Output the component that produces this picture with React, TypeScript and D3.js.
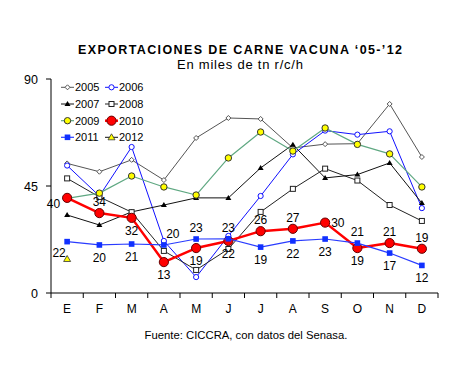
import React from "react";
import * as d3 from "d3";

const months = ["E", "F", "M", "A", "M", "J", "J", "A", "S", "O", "N", "D"];
const yTicks = [0, 45, 90];

const s2005 = [54.5, 51, 56, 47.5, 65.2, 73.6, 73.2, 61, 62.6, 62.8, 79.5, 57.2];
const s2006 = [53.6, 40.8, 61.4, 21.9, 6.7, 24, 40.8, 58.3, 68.3, 66.6, 68, 35.7];
const s2007 = [32.8, 28.6, 34.1, 37, 40, 40, 52.6, 62.4, 48.4, 49.8, 54.7, 37.8];
const s2008 = [48.2, 40.4, 34, 17.7, 9.7, 18.5, 34.1, 43.8, 52.3, 47.3, 37, 30.3];
const s2009 = [39.8, 42, 49.2, 44.6, 41.2, 56.8, 67.7, 59.7, 69.4, 62.5, 58.5, 44.6];
const s2010 = [40, 33.6, 31.6, 13, 18.9, 21.9, 26, 27, 29.6, 18.9, 21, 18.6];
const s2011 = [21.6, 20.2, 20.6, 20.2, 22.7, 22.8, 19.3, 21.9, 22.7, 21, 16.8, 11.6];
const s2012 = [14.3];

// label placement (not data): where each value label sits relative to its point
const place2010 = ["left", "above", "below", "below", "below", "below", "above", "above", "right", "below", "above", "above"];
const place2011 = ["belowleft", "below", "below", "aboveright", "above", "above", "below", "below", "below", "above", "below", "below"];

type Marker = "diamond" | "circleOpen" | "triangle" | "square" | "circleYellow" | "circleRed" | "squareBlue" | "triangleYellow";

const series: { name: string; values: number[]; color: string; width: number; marker: Marker }[] = [
  { name: "2005", values: s2005, color: "#555555", width: 1, marker: "diamond" },
  { name: "2006", values: s2006, color: "#1010ff", width: 1, marker: "circleOpen" },
  { name: "2007", values: s2007, color: "#111111", width: 1, marker: "triangle" },
  { name: "2008", values: s2008, color: "#222222", width: 1, marker: "square" },
  { name: "2009", values: s2009, color: "#5fa882", width: 1.2, marker: "circleYellow" },
  { name: "2010", values: s2010, color: "#ff0000", width: 2.5, marker: "circleRed" },
  { name: "2011", values: s2011, color: "#2a3cff", width: 1.2, marker: "squareBlue" },
  { name: "2012", values: s2012, color: "#111111", width: 1, marker: "triangleYellow" },
];

const FONT = "'Liberation Sans', Arial, sans-serif";

function MarkerShape({ m, x, y, color }: { m: Marker; x: number; y: number; color: string }) {
  switch (m) {
    case "diamond":
      return <path d={`M${x},${y - 2.5}L${x + 2.5},${y}L${x},${y + 2.5}L${x - 2.5},${y}Z`} fill="#fff" stroke="#555" strokeWidth={1} />;
    case "circleOpen":
      return <circle cx={x} cy={y} r={2.6} fill="#fff" stroke={color} strokeWidth={1} />;
    case "triangle":
      return <path d={`M${x},${y - 3}L${x + 3},${y + 2}L${x - 3},${y + 2}Z`} fill="#000" />;
    case "square":
      return <rect x={x - 2.5} y={y - 2.5} width={5} height={5} fill="#fff" stroke="#222" strokeWidth={1} />;
    case "circleYellow":
      return <circle cx={x} cy={y} r={3.2} fill="#ffff00" stroke="#333" strokeWidth={1} />;
    case "circleRed":
      return <circle cx={x} cy={y} r={4.6} fill="#ff0000" stroke="#600" strokeWidth={1} />;
    case "squareBlue":
      return <rect x={x - 2.8} y={y - 2.8} width={5.6} height={5.6} fill="#1030ff" />;
    case "triangleYellow":
      return <path d={`M${x},${y - 3.5}L${x + 3.5},${y + 2.5}L${x - 3.5},${y + 2.5}Z`} fill="#ffff00" stroke="#333" strokeWidth={0.8} />;
  }
  return null;
}

function labelOffset(p: string): [number, number, string] {
  switch (p) {
    case "above": return [0, -7, "middle"];
    case "below": return [0, 17, "middle"];
    case "left": return [-7, 10, "end"];
    case "right": return [6, 4, "start"];
    case "belowleft": return [-8, 15, "middle"];
    case "aboveright": return [9, -7, "middle"];
  }
  return [0, 0, "middle"];
}

export default function App() {
  const W = 454, H = 366;
  const x = d3.scaleBand<number>().domain(d3.range(months.length)).range([51, 438]);
  const cx = (i: number) => (x(i) as number) + x.bandwidth() / 2;
  const y = d3.scaleLinear().domain([0, 90]).range([293, 79]);
  const line = d3.line<number>().x((_, i) => cx(i)).y((v) => y(v));

  const legendCols = [61, 105];
  const legendRows = [87.3, 104, 120.7, 137.3];

  return (
    <svg width={W} height={H} style={{ position: "absolute", left: 0, top: 0, background: "#fff" }} fontFamily={FONT}>
      <rect width={W} height={H} fill="#fff" />
      <text x={240} y={54} textAnchor="middle" fontSize={12.5} fontWeight="bold" textLength={324} lengthAdjust="spacing">
        EXPORTACIONES DE CARNE VACUNA ‘05-’12
      </text>
      <text x={240} y={69} textAnchor="middle" fontSize={13} textLength={126} lengthAdjust="spacing">En miles de tn r/c/h</text>

      {/* axes */}
      <line x1={51} x2={51} y1={y(90)} y2={y(0)} stroke="#000" strokeWidth={1} />
      <line x1={51} x2={438} y1={y(0)} y2={y(0)} stroke="#000" strokeWidth={1} />
      {yTicks.map((t) => (
        <g key={t}>
          <line x1={46} x2={51} y1={y(t)} y2={y(t)} stroke="#000" />
          <text x={38} y={y(t) + 4.5} textAnchor="end" fontSize={12.5}>{t}</text>
        </g>
      ))}
      {d3.range(months.length + 1).map((i) => {
        const xx = i < months.length ? (x(i) as number) : 438;
        return <line key={i} x1={xx} x2={xx} y1={293} y2={298} stroke="#000" />;
      })}
      {months.map((m, i) => (
        <text key={i} x={cx(i)} y={313} textAnchor="middle" fontSize={12}>{m}</text>
      ))}

      {/* series */}
      {series.map((s) => (
        <g key={s.name}>
          {s.values.length > 1 && (
            <path d={line(s.values) || ""} fill="none" stroke={s.color} strokeWidth={s.width} strokeLinejoin="round" />
          )}
          {s.values.map((v, i) => (
            <MarkerShape key={i} m={s.marker} x={cx(i)} y={y(v)} color={s.color} />
          ))}
        </g>
      ))}

      {/* labels */}
      {s2010.map((v, i) => {
        const [dx, dy, anchor] = labelOffset(place2010[i]);
        return (
          <text key={"l10" + i} x={cx(i) + dx} y={y(v) + dy} textAnchor={anchor as any} fontSize={12}>
            {Math.round(v)}
          </text>
        );
      })}
      {s2011.map((v, i) => {
        const [dx, dy, anchor] = labelOffset(place2011[i]);
        return (
          <text key={"l11" + i} x={cx(i) + dx} y={y(v) + dy} textAnchor={anchor as any} fontSize={12}>
            {Math.round(v)}
          </text>
        );
      })}

      {/* legend */}
      {series.map((s, k) => {
        const lx = legendCols[k % 2];
        const ly = legendRows[Math.floor(k / 2)];
        return (
          <g key={"lg" + s.name}>
            <line x1={lx} x2={lx + 13} y1={ly} y2={ly} stroke={s.color} strokeWidth={s.width} />
            <MarkerShape m={s.marker} x={lx + 6.5} y={ly} color={s.color} />
            <text x={lx + 14} y={ly + 4} fontSize={11}>{s.name}</text>
          </g>
        );
      })}

      <text x={246} y={339} textAnchor="middle" fontSize={11.3}>Fuente: CICCRA, con datos del Senasa.</text>
    </svg>
  );
}
